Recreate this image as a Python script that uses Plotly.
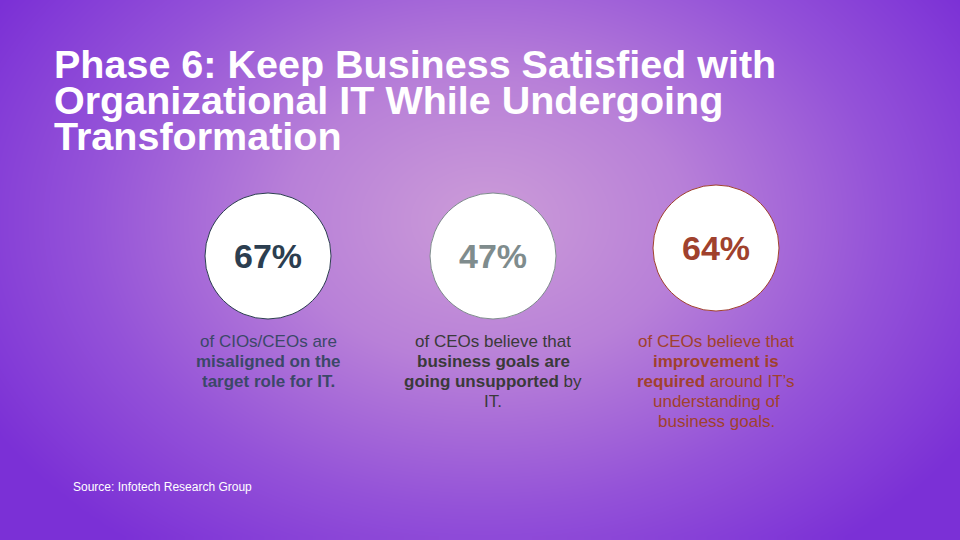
import numpy as np
import plotly.graph_objects as go

title_lines = [
    "Phase 6: Keep Business Satisfied with",
    "Organizational IT While Undergoing",
    "Transformation",
]
percents = [67, 47, 64]
stat_colors = ["#2c3e50", "#7f8c8d", "#a0412d"]
text_colors = ["#3b4868", "#3a3a3a", "#a0412d"]
descriptions = [
    ["of CIOs/CEOs are", "<b>misaligned on the</b>", "<b>target role for IT.</b>"],
    ["of CEOs believe that", "<b>business goals are</b>", "<b>going unsupported</b> by", "IT."],
    ["of CEOs believe that", "<b>improvement is</b>", "<b>required</b> around IT\u2019s",
     "understanding of", "business goals."],
]
source = "Source: Infotech Research Group"

W, H = 960, 540
FONT = "Liberation Sans, Arial, sans-serif"

# background: soft radial glow, light lilac centre fading to violet
gx = np.arange(0, W + 1, 8)
gy = np.arange(0, H + 1, 8)
X, Y = np.meshgrid(gx, gy)
dist = np.sqrt(((X - 485) / 570) ** 2 + ((Y - 220) / 410) ** 2)
dist = np.clip(dist, 0, 1)

fig = go.Figure()
fig.add_trace(go.Heatmap(
    x=gx, y=gy, z=dist, zmin=0, zmax=1, zsmooth="best",
    colorscale=[[0, "#cc9cd8"], [0.35, "#b880d8"], [0.7, "#9452d8"], [1, "#7b30d6"]],
    showscale=False, hoverinfo="skip",
))

# circle centres and radius
cx = [268, 493, 716]
cy = [256, 256, 248]
r = 63

for i, val in enumerate(percents):
    fig.add_shape(type="circle", xref="x", yref="y",
                  x0=cx[i] - r, x1=cx[i] + r, y0=cy[i] - r, y1=cy[i] + r,
                  fillcolor="white", line=dict(color=stat_colors[i], width=1))
    fig.add_annotation(x=cx[i], y=cy[i], text=f"<b>{val}%</b>", showarrow=False,
                       font=dict(family=FONT, size=34, color=stat_colors[i]),
                       xanchor="center", yanchor="middle")
    for j, line in enumerate(descriptions[i]):
        fig.add_annotation(x=cx[i], y=341 + 20 * j, text=line, showarrow=False,
                           height=19,
                           font=dict(family=FONT, size=17, color=text_colors[i]),
                           xanchor="center", yanchor="middle")

# title set line by line to keep the tight slide leading
for k, line in enumerate(title_lines):
    fig.add_annotation(x=52, y=64 + 36 * k, text=f"<b>{line}</b>", showarrow=False,
                       font=dict(family=FONT, size=39.5, color="white"),
                       xanchor="left", yanchor="middle")

fig.add_annotation(x=71, y=487, text=source, showarrow=False,
                   font=dict(family=FONT, size=12, color="white"),
                   xanchor="left", yanchor="middle")

fig.update_xaxes(range=[0, W], visible=False, fixedrange=True)
fig.update_yaxes(range=[H, 0], visible=False, fixedrange=True)
fig.update_layout(
    width=W, height=H,
    margin=dict(l=0, r=0, t=0, b=0),
    paper_bgcolor="#8a45d8", plot_bgcolor="#8a45d8",
    showlegend=False,
)

fig.write_html("out.html", config={"displayModeBar": False},
               post_script="document.body.style.margin='0';")
